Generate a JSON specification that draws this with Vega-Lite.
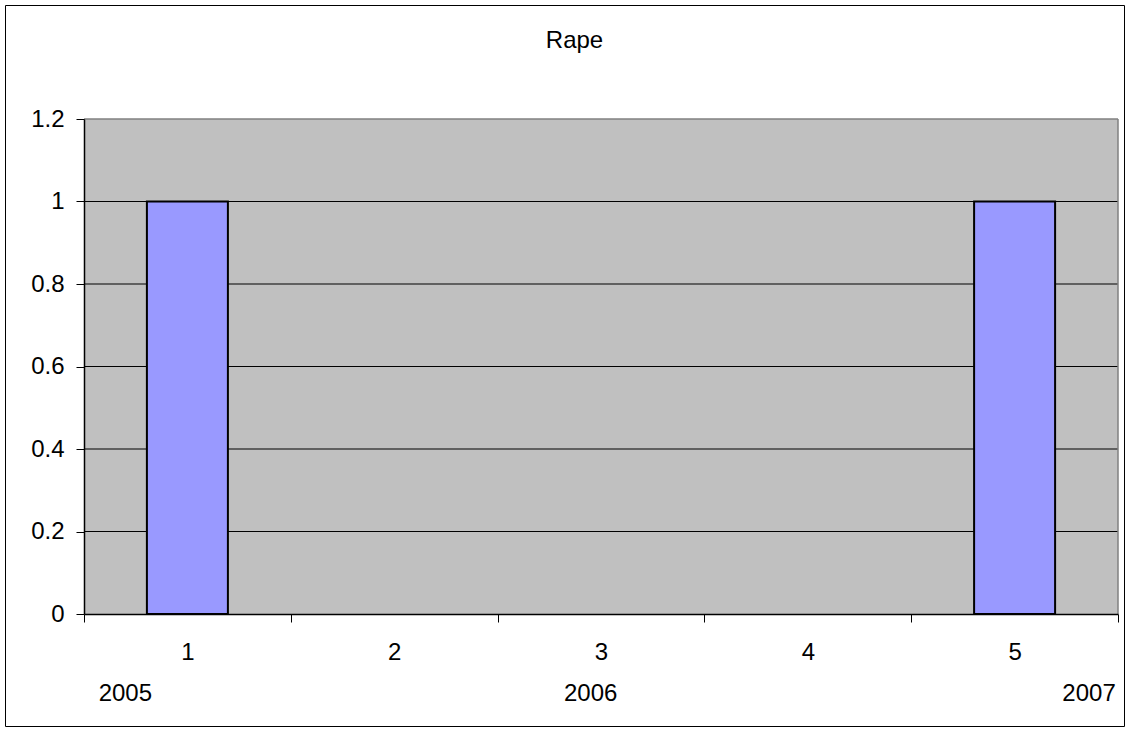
{
  "$schema": "https://vega.github.io/schema/vega-lite/v6.json",
  "width": 1119,
  "height": 721,
  "autosize": {"type": "none"},
  "padding": {"left": 5, "top": 5, "right": 6, "bottom": 7},
  "background": "white",
  "config": {
    "font": "Liberation Sans",
    "view": {"stroke": "black", "strokeWidth": 1, "fill": "white"}
  },
  "title": {
    "text": "Rape",
    "fontSize": 24,
    "fontWeight": "normal",
    "font": "Liberation Sans",
    "color": "black",
    "anchor": "middle",
    "dx": 10,
    "baseline": "alphabetic",
    "offset": -67
  },
  "datasets": {
    "crimes": [
      {"cat": 1, "value": 1},
      {"cat": 2, "value": 0},
      {"cat": 3, "value": 0},
      {"cat": 4, "value": 0},
      {"cat": 5, "value": 1}
    ],
    "years": [
      {"year": "2005", "pos": 0.70},
      {"year": "2006", "pos": 2.95},
      {"year": "2007", "pos": 5.36}
    ],
    "gridlines": [
      {"level": 0.2},
      {"level": 0.4},
      {"level": 0.6},
      {"level": 0.8},
      {"level": 1.0}
    ]
  },
  "layer": [
    {
      "data": {"values": [{}]},
      "mark": {"type": "rect", "fill": "#c0c0c0", "stroke": null},
      "encoding": {
        "x": {"datum": 0.5, "type": "quantitative", "scale": {"domain": [0.5, 5.5], "range": [79, 1113], "nice": false, "zero": false, "padding": 0}},
        "x2": {"datum": 5.5},
        "y": {"datum": 0, "type": "quantitative", "scale": {"domain": [0, 1.2], "range": [609, 114], "nice": false, "zero": false, "padding": 0}},
        "y2": {"datum": 1.2}
      }
    },
    {
      "data": {"name": "gridlines"},
      "mark": {"type": "rule", "color": "black", "strokeWidth": 1},
      "encoding": {
        "x": {"datum": 0.5, "type": "quantitative"},
        "x2": {"datum": 5.5},
        "y": {"field": "level", "type": "quantitative", "title": null}
      }
    },
    {
      "data": {"values": [{}]},
      "mark": {"type": "rule", "color": "#808080", "strokeWidth": 1.5},
      "encoding": {
        "x": {"datum": 0.5, "type": "quantitative"},
        "x2": {"datum": 5.5},
        "y": {"datum": 1.2, "type": "quantitative"}
      }
    },
    {
      "data": {"values": [{}]},
      "mark": {"type": "rule", "color": "#808080", "strokeWidth": 1.5},
      "encoding": {
        "x": {"datum": 5.5, "type": "quantitative"},
        "y": {"datum": 0, "type": "quantitative"},
        "y2": {"datum": 1.2}
      }
    },
    {
      "data": {"name": "crimes"},
      "transform": [{"filter": "datum.value > 0"}],
      "mark": {"type": "bar", "width": 81, "fill": "#9999ff", "stroke": "black", "strokeWidth": 2},
      "encoding": {
        "x": {
          "field": "cat",
          "type": "quantitative",
          "scale": {"domain": [0.5, 5.5], "range": [79, 1113], "nice": false, "zero": false, "padding": 0},
          "axis": {
            "values": [0.5, 1, 1.5, 2, 2.5, 3, 3.5, 4, 4.5, 5, 5.5],
            "labelExpr": "datum.value % 1 === 0 ? format(datum.value, 'd') : ''",
            "tickOpacity": {"condition": {"test": "datum.value % 1 === 0", "value": 0}, "value": 1},
            "tickSize": 8,
            "tickColor": "black",
            "domainColor": "black",
            "domainWidth": 1.5,
            "labelFontSize": 24,
            "labelFont": "Liberation Sans",
            "labelColor": "black",
            "labelPadding": 18,
            "labelOverlap": false,
            "labelFlush": false,
            "grid": false,
            "title": null,
            "offset": -112,
            "zindex": 1
          }
        },
        "y": {
          "field": "value",
          "type": "quantitative",
          "scale": {"domain": [0, 1.2], "range": [609, 114], "nice": false, "zero": false, "padding": 0},
          "axis": {
            "values": [0, 0.2, 0.4, 0.6, 0.8, 1, 1.2],
            "format": "~g",
            "tickSize": 8,
            "tickColor": "black",
            "domainColor": "black",
            "domainWidth": 1.5,
            "labelFontSize": 24,
            "labelFont": "Liberation Sans",
            "labelColor": "black",
            "labelPadding": 12,
            "labelOverlap": false,
            "labelFlush": false,
            "grid": false,
            "title": null,
            "offset": -79,
            "zindex": 1
          }
        }
      }
    },
    {
      "data": {"name": "years"},
      "mark": {"type": "text", "fontSize": 24, "font": "Liberation Sans", "color": "black", "align": "center", "baseline": "middle"},
      "encoding": {
        "x": {"field": "pos", "type": "quantitative", "title": null},
        "y": {"datum": -0.193, "type": "quantitative"},
        "text": {"field": "year"}
      }
    }
  ]
}
